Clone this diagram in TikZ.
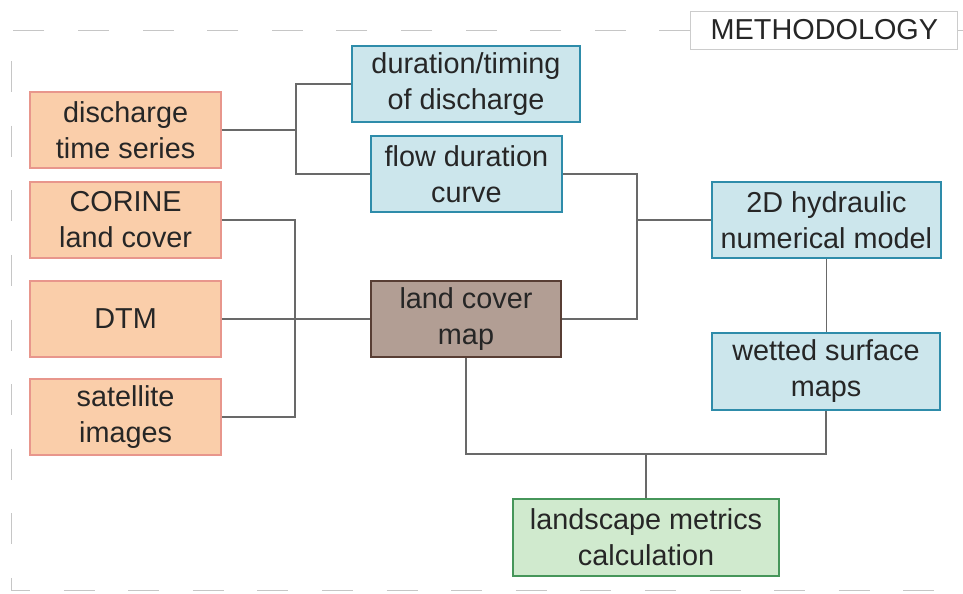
\documentclass[tikz,border=0pt]{standalone}
\usepackage{fontspec}
\setmainfont{Liberation Sans}
\usetikzlibrary{positioning}

\definecolor{infill}{RGB}{250,206,170}
\definecolor{inline}{RGB}{232,150,140}
\definecolor{bluefill}{RGB}{204,230,236}
\definecolor{blueline}{RGB}{46,140,170}
\definecolor{mapfill}{RGB}{178,158,148}
\definecolor{mapline}{RGB}{88,62,52}
\definecolor{resfill}{RGB}{208,234,206}
\definecolor{resline}{RGB}{70,150,90}
\definecolor{linkgray}{RGB}{105,105,105}

\begin{document}
\begin{tikzpicture}[
  every node/.style={font=\fontsize{20.5}{25.5}\selectfont, text=black!85, align=center, inner sep=0pt},
  inbox/.style={draw=inline, fill=infill, line width=1.3pt, minimum width=4.775cm, minimum height=1.9cm},
  outbox/.style={draw=blueline, fill=bluefill, line width=1.3pt, minimum height=1.9cm},
  mapbox/.style={draw=mapline, fill=mapfill, line width=1.5pt, minimum width=4.75cm, minimum height=1.9cm},
  resbox/.style={draw=resline, fill=resfill, line width=1.3pt, minimum width=6.65cm, minimum height=1.925cm},
  titlebox/.style={draw=gray!40, fill=white, line width=0.6pt, minimum width=6.675cm, minimum height=0.95cm},
  link/.style={draw=linkgray, line width=1.2pt},
  frame/.style={draw=gray!45, line width=0.7pt, dash pattern=on 0.775cm off 0.84cm}
]
\useasboundingbox (0,0) rectangle (24.075,14.825);

% input data
\node[inbox] (dts) at (3.14,11.575) {discharge\\time series};
\node[inbox] (clc) at (3.14,9.325) {CORINE\\land cover};
\node[inbox] (dtm) at (3.14,6.85) {DTM};
\node[inbox] (sat) at (3.14,4.4) {satellite\\images};

% intermediate products
\node[outbox, minimum width=5.7cm] (dur) at (11.65,12.725) {duration/timing\\of discharge};
\node[outbox, minimum width=4.775cm] (fdc) at (11.66,10.475) {flow duration\\curve};
\node[mapbox] (lcm) at (11.65,6.85) {land cover\\map};
\node[outbox, minimum width=5.725cm] (hyd) at (20.66,9.325) {2D hydraulic\\numerical model};
\node[outbox, minimum width=5.7cm, minimum height=1.925cm] (wsm) at (20.65,5.54) {wetted surface\\maps};

% result
\node[resbox] (lsm) at (16.15,1.39) {landscape metrics\\calculation};

% frame and title
\node[titlebox] (meth) at (20.61,14.075) {METHODOLOGY};
\draw[frame] (meth.west) -| (0.275,0.075) -- (24.075,0.075);
\draw[frame] (meth.east) -- (24.075,14.075);

% junctions
\coordinate (jl) at (7.4,11.575);
\coordinate (jd) at (7.375,6.85);
\coordinate (jr) at (15.925,9.325);
\coordinate (jb) at (16.15,3.475);

\draw[link] (dts.east) -- (jl);
\draw[link] (dur.west) -| (jl) |- (fdc.west);
\draw[link] (clc.east) -| (jd);
\draw[link] (sat.east) -| (jd);
\draw[link] (dtm.east) -- (lcm.west);
\draw[link] (fdc.east) -| (jr) |- (lcm.east);
\draw[link] (jr) -- (hyd.west);
\draw[link] (hyd.south) -- (hyd.south |- wsm.north);
\draw[link] (lcm.south) |- (jb) -| (wsm.south);
\draw[link] (jb) -- (lsm.north);

\end{tikzpicture}
\end{document}
